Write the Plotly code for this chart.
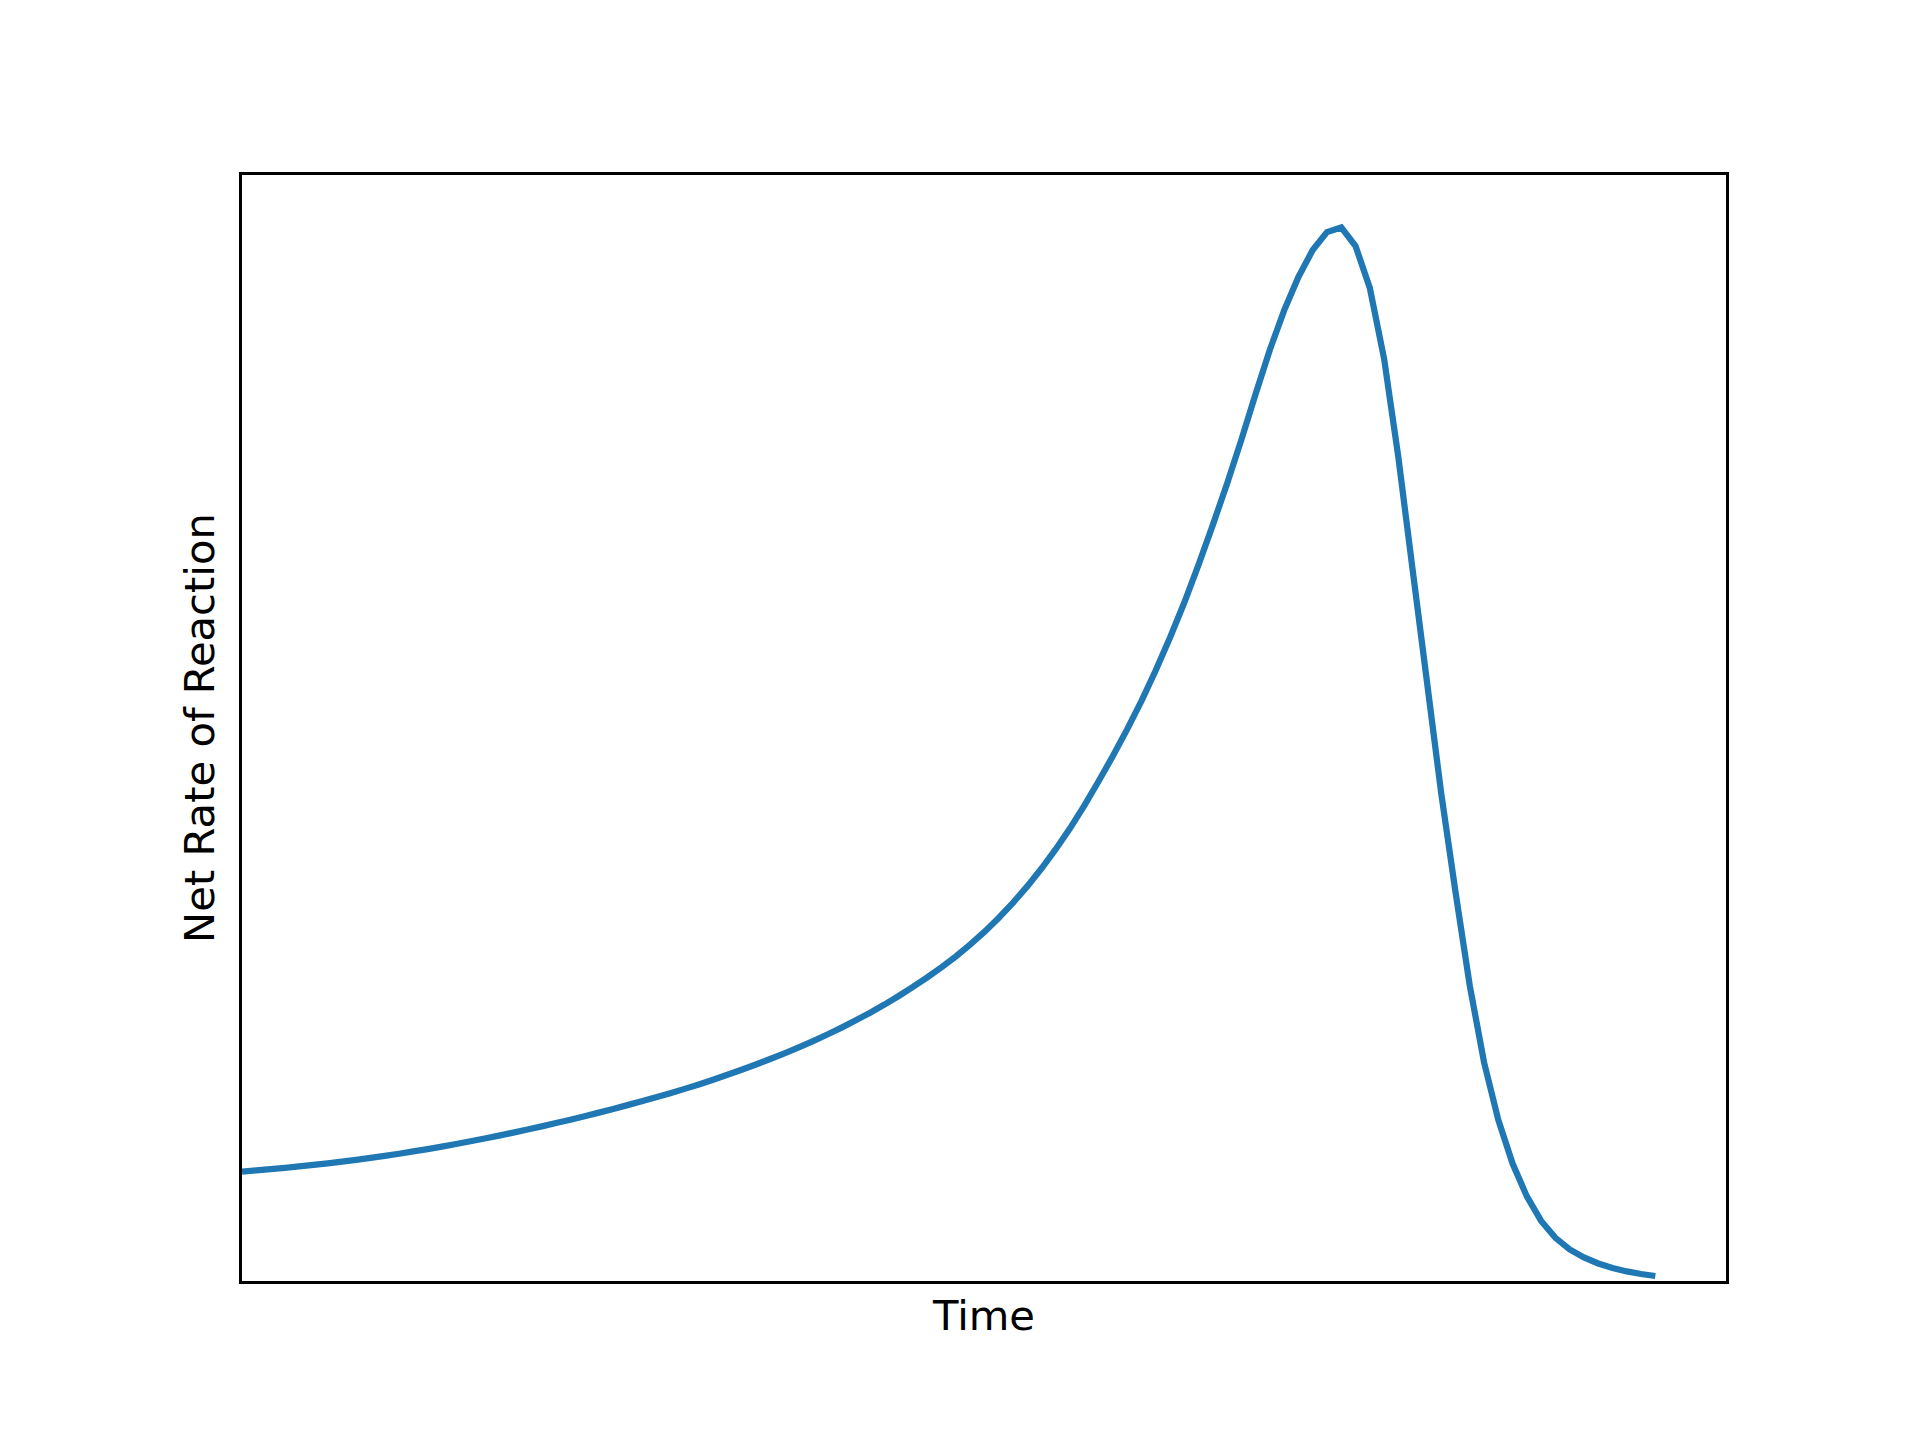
import plotly.graph_objects as go

# Time samples (uniformly spaced, arbitrary units)
time = list(range(100))

# Net rate of reaction (arbitrary units)
net_rate = [
    10.98, 11.10, 11.23, 11.36, 11.50, 11.65, 11.81, 11.98, 12.16, 12.35,
    12.55, 12.77, 13.00, 13.24, 13.49, 13.75, 14.02, 14.30, 14.59, 14.89,
    15.20, 15.52, 15.85, 16.19, 16.54, 16.90, 17.27, 17.65, 18.04, 18.44,
    18.85, 19.28, 19.73, 20.20, 20.69, 21.20, 21.73, 22.28, 22.85, 23.45,
    24.08, 24.74, 25.43, 26.16, 26.93, 27.74, 28.60, 29.51, 30.47, 31.49,
    32.57, 33.75, 35.03, 36.43, 37.95, 39.60, 41.39, 43.33, 45.43, 47.70,
    50.15, 52.68, 55.36, 58.20, 61.26, 64.56, 68.06, 71.86, 75.86, 80.01,
    84.41, 89.01, 93.46, 97.41, 100.76, 103.46, 105.26, 105.73, 103.86, 99.66,
    92.56, 82.66, 71.36, 60.16, 48.96, 39.06, 29.66, 21.96, 16.16, 11.79,
    8.49, 6.03, 4.33, 3.16, 2.36, 1.76, 1.31, 0.96, 0.70, 0.50,
]

x_label = "Time"
y_label = "Net Rate of Reaction"

# matplotlib-like autoscale with 5% margin on the top/right, zero at the bottom/left
x_max = max(time) + 0.05 * (max(time) - min(time))
y_max = max(net_rate) + 0.05 * (max(net_rate) - min(net_rate))

fig = go.Figure()
fig.add_trace(go.Scatter(
    x=time, y=net_rate, mode="lines",
    line=dict(color="#1f77b4", width=6.25, simplify=False),
    showlegend=False, hoverinfo="skip",
))

font = dict(family="DejaVu Sans", size=41.7, color="black")
axis_common = dict(
    showline=True, mirror=True, linecolor="black", linewidth=3.33,
    showgrid=False, zeroline=False, ticks="", showticklabels=False,
)

# page body has an 8px margin; size/margins compensate so the axes sit where the reference has them
fig.update_layout(
    width=1904, height=1424,
    margin=dict(l=234, r=186, t=167, b=151, pad=0),
    paper_bgcolor="white", plot_bgcolor="white",
    font=font,
    xaxis=dict(range=[0, x_max], title=dict(text=x_label, font=font, standoff=18), **axis_common),
    yaxis=dict(range=[0, y_max], title=dict(text=y_label, font=font, standoff=12), **axis_common),
)

fig.write_html("out.html")
